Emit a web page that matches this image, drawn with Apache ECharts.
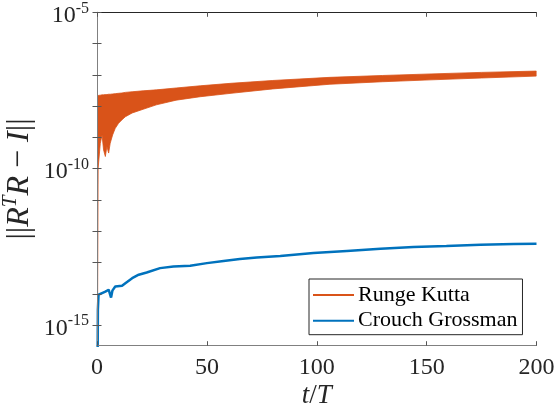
<!DOCTYPE html>
<html>
<head>
<meta charset="utf-8">
<script src="https://cdn.jsdelivr.net/npm/echarts@6/dist/echarts.min.js"></script>
<style>
html,body{margin:0;padding:0;background:#fff;}
#chart{width:554px;height:414px;}
</style>
</head>
<body>
<div id="chart"></div>
<script>
// Runge Kutta: oscillating band, lower and upper envelopes (shared t samples)
var rkT = [0.25, 0.5, 1.5, 2.3, 3.0, 3.8, 4.5, 5.3, 6.0, 7.1, 8.3, 9.8, 11.3, 12.9, 16, 21, 27, 36, 47, 61, 80, 106, 130, 152, 175, 200];
var rkLower = [5.0e-15, 1.0e-10, 6.46e-10, 1.20e-9, 3.98e-10, 2.45e-10, 5.13e-10, 3.16e-10, 6.46e-10, 1.20e-9, 1.95e-9, 2.82e-9, 3.63e-9, 4.57e-9, 6.03e-9, 7.94e-9, 1.10e-8, 1.55e-8, 2.00e-8, 2.57e-8, 3.55e-8, 5.01e-8, 6.03e-8, 6.92e-8, 7.94e-8, 9.12e-8];
var rkUpper = [2.19e-8, 2.19e-8, 2.24e-8, 2.29e-8, 2.29e-8, 2.34e-8, 2.34e-8, 2.40e-8, 2.40e-8, 2.45e-8, 2.51e-8, 2.57e-8, 2.63e-8, 2.75e-8, 2.88e-8, 3.09e-8, 3.31e-8, 3.80e-8, 4.47e-8, 5.37e-8, 6.61e-8, 8.32e-8, 9.55e-8, 1.07e-7, 1.20e-7, 1.32e-7];

// Crouch Grossman
var cgT = [0.3, 0.4, 0.7, 1.2, 2.3, 3.8, 5.3, 6.4, 7.0, 8.3, 11.4, 12.9, 16, 19, 22.6, 28.7, 34.8, 42.4, 50, 57.6, 65, 72.7, 83.4, 98.5, 113.7, 129, 144, 159, 174.5, 189.7, 200];
var cgVal = [1e-16, 3.02e-15, 9.33e-15, 8.71e-15, 1.05e-14, 1.17e-14, 1.35e-14, 7.59e-15, 1.26e-14, 1.70e-14, 1.82e-14, 2.19e-14, 3.16e-14, 4.07e-14, 4.79e-14, 6.61e-14, 7.41e-14, 7.94e-14, 9.55e-14, 1.12e-13, 1.29e-13, 1.45e-13, 1.62e-13, 2.00e-13, 2.34e-13, 2.75e-13, 3.16e-13, 3.39e-13, 3.72e-13, 3.89e-13, 3.98e-13];

var xTicks = [0, 50, 100, 150, 200];
var yTickValues = [1e-15, 1e-14, 1e-13, 1e-12, 1e-11, 1e-10, 1e-9, 1e-8, 1e-7, 1e-6, 1e-5];
var yLabelValues = [1e-15, 1e-10, 1e-5];
var legendNames = ['Runge Kutta', 'Crouch Grossman'];

var ORANGE = '#D95319', BLUE = '#0072BD';
var FONT = 'Liberation Serif';
var yMin = Math.pow(10, -15.66), yMax = 1e-5;

var bandData = rkT.map(function (t, i) { return [t, rkLower[i], rkUpper[i]]; });
var cgData = cgT.map(function (t, i) { return [t, cgVal[i]]; });

var chart = echarts.init(document.getElementById('chart'), null, {renderer: 'canvas'});

function renderBand(params, api) {
  if (params.dataIndex !== 0) return null;
  var pts = [];
  var i;
  for (i = 0; i < bandData.length; i++) pts.push(api.coord([bandData[i][0], bandData[i][2]]));
  for (i = bandData.length - 1; i >= 0; i--) pts.push(api.coord([bandData[i][0], bandData[i][1]]));
  var cs = params.coordSys;
  return {
    type: 'polygon',
    silent: true,
    shape: {points: pts},
    style: {fill: ORANGE, stroke: ORANGE, lineWidth: 0.8},
    clipPath: {type: 'rect', shape: {x: cs.x, y: cs.y, width: cs.width, height: cs.height}}
  };
}

function yAxisBase(showLabels, pos) {
  return {
    type: 'log', logBase: 10, min: yMin, max: yMax, position: pos, z: 5,
    nameMoveOverlap: false,
    axisLine: {show: true, lineStyle: {color: '#808080', width: 1}},
    axisTick: {show: true, inside: true, length: 4.5, lineStyle: {color: '#555'}, customValues: yTickValues},
    splitLine: {show: false},
    minorTick: {show: false},
    axisLabel: showLabels ? {
      show: true, margin: 8, customValues: yLabelValues,
      formatter: function (v) { var e = Math.round(Math.log10(v)); return '{b|10}{s|' + e + '}'; },
      rich: {
        b: {fontFamily: FONT, fontSize: 24, color: '#262626', padding: [7, 0, 0, 0], lineHeight: 24},
        s: {fontFamily: FONT, fontSize: 16, color: '#262626', verticalAlign: 'top', lineHeight: 16}
      }
    } : {show: false}
  };
}

var option = {
  animation: false,
  backgroundColor: '#fff',
  grid: {left: 97, right: 17.5, top: 12.3, bottom: 68.3, containLabel: false, outerBoundsMode: 'none'},
  legend: {
    data: legendNames,
    orient: 'vertical', left: 309, top: 279,
    icon: 'rect', itemWidth: 41, itemHeight: 2, itemGap: 3.7,
    padding: [5, 5, 3, 4],
    backgroundColor: '#fff', borderColor: '#262626', borderWidth: 1, borderRadius: 0,
    textStyle: {fontFamily: FONT, fontSize: 22, color: '#000', lineHeight: 22, padding: [0, 0, 0, -1]},
    selectedMode: false
  },
  xAxis: [{
    type: 'value', min: 0, max: 200, interval: 50, position: 'bottom', z: 5,
    name: '{i|t}{n|/}{i|T}', nameLocation: 'middle', nameGap: 37, nameMoveOverlap: false,
    nameTextStyle: {rich: {
      i: {fontFamily: FONT, fontStyle: 'italic', fontSize: 27, color: '#262626'},
      n: {fontFamily: FONT, fontSize: 27, color: '#262626'}
    }},
    axisLine: {show: true, lineStyle: {color: '#808080', width: 1}},
    axisTick: {show: true, inside: true, length: 4.5, lineStyle: {color: '#555'}},
    splitLine: {show: false},
    axisLabel: {show: true, margin: 10, fontFamily: FONT, fontSize: 24, color: '#262626'}
  }, {
    type: 'value', min: 0, max: 200, interval: 50, position: 'top', z: 5,
    axisLine: {show: true, onZero: false, lineStyle: {color: '#262626', width: 1}},
    axisTick: {show: true, inside: true, length: 4.5, lineStyle: {color: '#555'}},
    splitLine: {show: false},
    axisLabel: {show: false}
  }],
  yAxis: [
    Object.assign(yAxisBase(true, 'left'), {
      name: '{n|||}{i|R}{s|T}{i|R}{n| − }{i|I}{n|||}',
      nameLocation: 'middle', nameRotate: 90, nameGap: 65,
      nameTextStyle: {rich: {
        n: {fontFamily: FONT, fontSize: 32, color: '#262626', padding: [7, 0, 0, 0], lineHeight: 32},
        i: {fontFamily: FONT, fontStyle: 'italic', fontSize: 32, color: '#262626', padding: [7, 0, 0, 0], lineHeight: 32},
        s: {fontFamily: FONT, fontStyle: 'italic', fontSize: 21, color: '#262626', verticalAlign: 'top', lineHeight: 21}
      }}
    }),
    yAxisBase(false, 'right')
  ],
  series: [{
    name: 'Runge Kutta', type: 'custom', data: bandData,
    xAxisIndex: 0, yAxisIndex: 0,
    encode: {x: 0, y: [1, 2]},
    color: ORANGE, itemStyle: {color: ORANGE},
    renderItem: renderBand
  }, {
    name: 'Crouch Grossman', type: 'line', data: cgData,
    xAxisIndex: 0, yAxisIndex: 0,
    showSymbol: false, symbol: 'none', color: BLUE,
    lineStyle: {color: BLUE, width: 2.5}
  }]
};
chart.setOption(option);
</script>
</body>
</html>
